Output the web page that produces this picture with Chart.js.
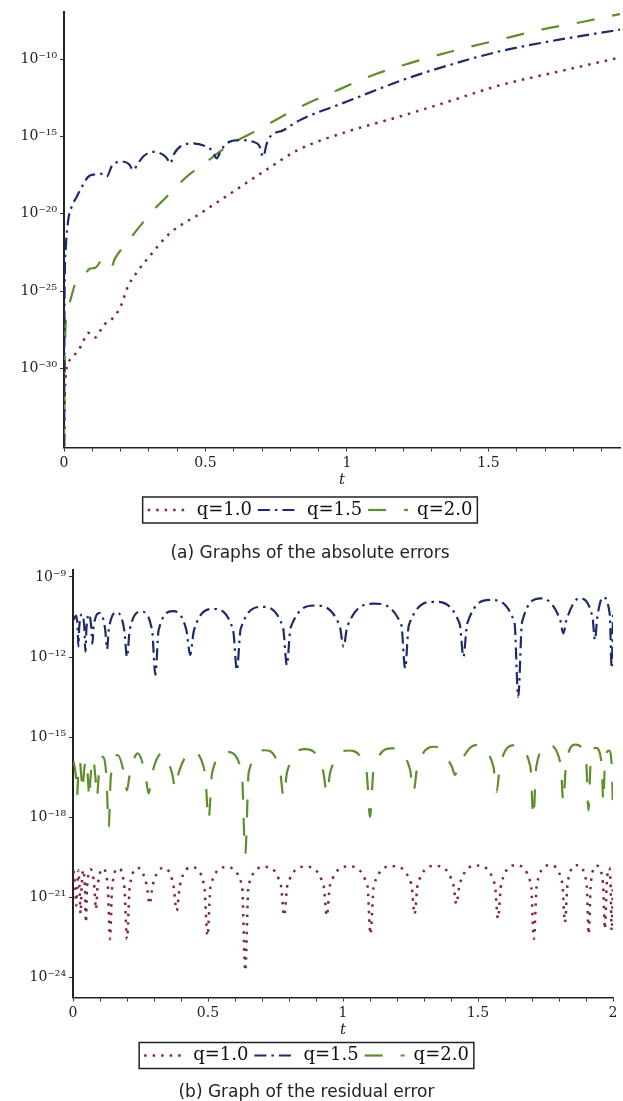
<!DOCTYPE html>
<html lang="en">
<head>
  <meta charset="UTF-8" />
  <title>Absolute and residual errors</title>
  <script src="https://cdn.jsdelivr.net/npm/chart.js"></script>
  <style>
    html, body { margin: 0; padding: 0; background: #fff; }
    body { width: 623px; height: 1101px; overflow: hidden; }
    canvas { display: block; }
  </style>
</head>
<body>

<canvas id="chartA" width="623" height="565"></canvas>
<canvas id="chartB" width="623" height="536"></canvas>

<script>
  // values are [t, log10(error)]
  const seriesLabels = ['q=1.0', 'q=1.5', 'q=2.0'];

  // (a) absolute errors
  const absQ10 = [[0.0005,-35],[0.003,-31.5],[0.014,-29.7],[0.027,-29.3],[0.045,-28.95],[0.062,-28.5],[0.085,-27.7],
    [0.11,-28.0],[0.14,-27.2],[0.17,-26.8],[0.2,-26.0],[0.226,-24.7],[0.257,-23.8],[0.3,-22.8],[0.375,-21.25],
    [0.48,-20.0],[0.6,-18.55],[0.72,-17.1],[0.83,-15.85],[1.0,-14.7],[1.19,-13.7],[1.35,-12.8],[1.54,-11.7],
    [1.75,-10.8],[1.965,-9.9]];
  const absQ15 = [[0.0005,-35],[0.002,-25.5],[0.006,-22.3],[0.015,-20.4],[0.027,-19.55],[0.045,-18.9],[0.065,-18.2],
    [0.086,-17.6],[0.11,-17.45],[0.127,-17.4],[0.151,-17.6],[0.174,-16.75],[0.21,-16.64],[0.23,-16.8],[0.245,-17.18],
    [0.26,-16.8],[0.28,-16.3],[0.316,-16.0],[0.351,-16.2],[0.365,-16.45],[0.375,-16.75],[0.39,-16.1],[0.41,-15.67],
    [0.457,-15.45],[0.504,-15.67],[0.525,-15.95],[0.54,-16.42],[0.555,-15.9],[0.575,-15.45],[0.622,-15.24],
    [0.669,-15.35],[0.69,-15.6],[0.704,-16.32],[0.716,-15.5],[0.728,-15.03],[0.775,-14.6],[0.834,-13.95],
    [1.0,-12.75],[1.19,-11.4],[1.36,-10.4],[1.54,-9.5],[1.75,-8.75],[1.965,-8.1]];
  const absQ20 = [[0.0005,-35],[0.004,-28],[0.012,-26.3],[0.027,-25.3],[0.04,-24.5],[0.068,-24.05],[0.092,-23.55],
    [0.11,-23.5],[0.14,-22.9],[0.155,-23.0],[0.168,-23.4],[0.18,-22.9],[0.221,-21.9],[0.316,-19.77],[0.363,-18.9],
    [0.434,-17.6],[0.5,-16.7],[0.575,-15.67],[0.693,-14.5],[0.834,-13.1],[0.95,-12.15],[1.093,-11.03],[1.24,-10.17],
    [1.388,-9.42],[1.535,-8.77],[1.682,-8.12],[1.835,-7.59],[1.965,-7.09]];

  // (b) residual errors
  const resQ10 = [[0.002,-20.0],[0.008,-20.6],[0.012,-21.3],[0.016,-20.6],[0.02,-19.98],[0.024,-20.6],[0.028,-21.6],
    [0.032,-20.6],[0.038,-19.97],[0.044,-20.6],[0.048,-21.94],[0.052,-20.6],[0.066,-19.95],[0.079,-20.6],[0.085,-21.44],
    [0.091,-20.6],[0.11,-19.93],[0.129,-20.6],[0.137,-22.56],[0.145,-20.6],[0.168,-19.92],[0.19,-20.6],[0.2,-22.56],
    [0.21,-20.6],[0.242,-19.9],[0.273,-20.55],[0.284,-21.25],[0.295,-20.55],[0.334,-19.9],[0.372,-20.55],[0.384,-21.5],
    [0.396,-20.55],[0.441,-19.88],[0.486,-20.55],[0.498,-22.44],[0.51,-20.55],[0.568,-19.87],[0.626,-20.55],[0.638,-23.75],
    [0.65,-20.55],[0.71,-19.86],[0.77,-20.55],[0.782,-21.69],[0.794,-20.55],[0.861,-19.85],[0.928,-20.55],[0.94,-21.69],
    [0.952,-20.55],[1.021,-19.84],[1.09,-20.55],[1.102,-22.38],[1.114,-20.55],[1.183,-19.83],[1.253,-20.5],[1.265,-21.63],
    [1.277,-20.5],[1.342,-19.82],[1.408,-20.5],[1.42,-21.25],[1.432,-20.5],[1.497,-19.81],[1.562,-20.5],[1.574,-21.79],
    [1.586,-20.5],[1.64,-19.8],[1.696,-20.5],[1.707,-22.56],[1.718,-20.5],[1.765,-19.8],[1.812,-20.45],[1.822,-21.94],
    [1.832,-20.45],[1.866,-19.8],[1.902,-20.45],[1.91,-22.38],[1.918,-20.45],[1.94,-19.82],[1.963,-20.45],[1.97,-22.19],
    [1.977,-20.45],[1.986,-19.9],[1.991,-20.45],[1.995,-22.25],[2.0,-20.45]];
  const resQ15 = [[0.002,-10.6],[0.012,-10.45],[0.017,-10.9],[0.02,-11.6],[0.023,-10.9],[0.033,-10.4],[0.042,-10.9],
    [0.046,-11.8],[0.05,-10.9],[0.059,-10.4],[0.068,-10.9],[0.072,-11.5],[0.076,-10.9],[0.099,-10.35],[0.119,-10.95],
    [0.126,-11.7],[0.133,-10.95],[0.163,-10.33],[0.19,-11.0],[0.2,-12.0],[0.21,-11.0],[0.252,-10.3],[0.293,-11.0],
    [0.305,-12.67],[0.317,-11.0],[0.37,-10.28],[0.42,-11.0],[0.434,-11.92],[0.448,-11.0],[0.52,-10.2],[0.593,-11.0],
    [0.607,-12.49],[0.621,-10.95],[0.7,-10.12],[0.778,-10.9],[0.792,-12.3],[0.806,-10.9],[0.897,-10.07],[0.988,-10.85],
    [1.002,-11.61],[1.016,-10.85],[1.116,-10.0],[1.216,-10.8],[1.23,-12.42],[1.244,-10.8],[1.338,-9.93],[1.432,-10.75],
    [1.446,-11.99],[1.46,-10.75],[1.547,-9.86],[1.635,-10.7],[1.649,-13.49],[1.663,-10.7],[1.733,-9.8],[1.804,-10.6],
    [1.816,-11.11],[1.828,-10.6],[1.875,-9.8],[1.924,-10.5],[1.933,-11.36],[1.942,-10.5],[1.963,-9.76],[1.988,-10.4],
    [1.995,-12.41],[2.0,-10.4]];
  const resQ20 = [[0.002,-15.9],[0.011,-16.5],[0.015,-17.2],[0.019,-16.5],[0.025,-15.9],[0.031,-16.5],[0.035,-17.0],
    [0.039,-16.5],[0.047,-15.85],[0.055,-16.5],[0.06,-17.3],[0.065,-16.5],[0.074,-15.8],[0.083,-16.5],[0.089,-17.24],
    [0.095,-16.5],[0.11,-15.74],[0.124,-16.5],[0.132,-18.36],[0.14,-16.5],[0.166,-15.67],[0.19,-16.4],[0.2,-16.99],
    [0.21,-16.4],[0.24,-15.61],[0.268,-16.4],[0.28,-17.11],[0.292,-16.4],[0.33,-15.6],[0.367,-16.35],[0.379,-16.92],
    [0.391,-16.35],[0.44,-15.55],[0.489,-16.35],[0.502,-18.11],[0.515,-16.35],[0.57,-15.55],[0.625,-16.3],[0.638,-19.36],
    [0.651,-16.3],[0.71,-15.49],[0.767,-16.3],[0.78,-17.24],[0.793,-16.3],[0.86,-15.45],[0.927,-16.3],[0.94,-17.11],
    [0.953,-16.3],[1.02,-15.5],[1.087,-16.3],[1.1,-17.99],[1.113,-16.25],[1.18,-15.42],[1.248,-16.2],[1.261,-17.05],
    [1.274,-16.2],[1.34,-15.36],[1.403,-16.1],[1.415,-16.42],[1.427,-16.1],[1.49,-15.3],[1.557,-16.1],[1.569,-17.05],
    [1.581,-16.1],[1.637,-15.3],[1.694,-16.1],[1.705,-17.99],[1.716,-16.1],[1.76,-15.3],[1.806,-16.0],[1.816,-17.43],
    [1.826,-16.0],[1.862,-15.28],[1.901,-16.0],[1.909,-17.74],[1.917,-16.0],[1.936,-15.4],[1.958,-16.0],[1.964,-17.43],
    [1.97,-16.0],[1.985,-15.5],[1.996,-16.2],[2.0,-17.74]];

  // y tick exponents
  const yTicksA = [-10, -15, -20, -25, -30];
  const yTicksB = [-9, -12, -15, -18, -21, -24];
  const captions = ['(a) Graphs of the absolute errors', '(b) Graph of the residual error'];

  const colors = ['#82263a', '#1d2b6c', '#5f8e2e'];
  const dashes = [[2.5, 6], [12, 5, 2.5, 5], [18, 18]];
  const widths = [2.5, 2.2, 2.2];
  const serif = '"DejaVu Serif", "Liberation Serif", serif';

  const sup = { '-': '\u207B', '0': '\u2070', '1': '\u00B9', '2': '\u00B2', '3': '\u00B3', '4': '\u2074',
    '5': '\u2075', '6': '\u2076', '7': '\u2077', '8': '\u2078', '9': '\u2079' };
  const powLabel = v => '10' + String(Math.round(Math.log10(v))).split('').map(c => sup[c]).join('');

  // box round the legend, like the Maple output
  const legendFrame = {
    id: 'legendFrame',
    afterDraw(chart) {
      const hb = chart.legend && chart.legend.legendHitBoxes;
      if (!hb || !hb.length) return;
      const l = Math.min(...hb.map(b => b.left)) - 5;
      const r = Math.max(...hb.map(b => b.left + b.width)) + 5;
      const t = Math.min(...hb.map(b => b.top)) - 4;
      const bt = Math.max(...hb.map(b => b.top + b.height)) + 4;
      const ctx = chart.ctx;
      ctx.save();
      ctx.strokeStyle = '#222';
      ctx.lineWidth = 1.5;
      ctx.strokeRect(l, t, r - l, bt - t);
      ctx.restore();
    }
  };

  // legend samples: a short piece of each line with its dash pattern
  const legendItems = chart =>
    Chart.defaults.plugins.legend.labels.generateLabels(chart).map((it, i) =>
      Object.assign(it, { pointStyle: 'line', lineDash: dashes[i], lineWidth: widths[i], strokeStyle: colors[i] }));

  function makeChart(id, series, o) {
    return new Chart(document.getElementById(id), {
      type: 'line',
      data: {
        datasets: series.map((s, i) => ({
          label: seriesLabels[i],
          data: s.map(p => ({ x: p[0], y: Math.pow(10, p[1]) })),
          borderColor: colors[i],
          backgroundColor: colors[i],
          borderWidth: widths[i],
          borderDash: dashes[i],
          pointRadius: 0,
          pointStyle: 'line',
          fill: false,
          cubicInterpolationMode: 'monotone'
        }))
      },
      options: {
        responsive: false,
        animation: false,
        devicePixelRatio: 1,
        layout: { padding: o.padding },
        scales: {
          x: {
            type: 'linear',
            min: 0,
            max: o.xMax,
            ticks: {
              stepSize: 0.1,
              autoSkip: false,
              maxRotation: 0,
              includeBounds: false,
              padding: 3,
              color: '#222',
              font: { family: serif, size: 14 },
              callback: v => Math.abs(v * 2 - Math.round(v * 2)) < 1e-6 ? String(Number(v.toFixed(1))) : ''
            },
            grid: { drawOnChartArea: false, tickLength: 4, tickColor: '#333' },
            border: { color: '#222', width: 1.5 },
            title: {
              display: true, text: 't', color: '#222',
              font: { family: serif, size: 15, style: 'italic' },
              padding: { top: 0, bottom: o.tPad }
            },
            afterFit: s => { s.height = o.xH; s.paddingLeft = 0; s.paddingRight = 0; }
          },
          y: {
            type: 'logarithmic',
            min: Math.pow(10, o.yMin),
            max: Math.pow(10, o.yMax),
            afterBuildTicks: s => { s.ticks = o.yTicks.map(e => ({ value: Math.pow(10, e) })); },
            ticks: { color: '#222', padding: 3, font: { family: serif, size: 14 }, callback: v => powLabel(v) },
            grid: { drawOnChartArea: false, tickLength: 4, tickColor: '#333' },
            border: { color: '#222', width: 2 },
            afterFit: s => { s.width = o.yW; s.paddingTop = 0; s.paddingBottom = 0; }
          }
        },
        plugins: {
          legend: {
            position: 'bottom',
            labels: {
              usePointStyle: true,
              pointStyleWidth: 40,
              boxHeight: 8,
              padding: 6,
              color: '#111',
              font: { family: serif, size: 18 },
              generateLabels: legendItems
            }
          },
          title: {
            display: true,
            position: 'bottom',
            text: o.caption,
            color: '#222',
            font: { family: '"DejaVu Sans", sans-serif', size: 17, weight: 'normal', lineHeight: 1 },
            padding: o.capPad
          },
          tooltip: { enabled: false }
        }
      },
      plugins: [legendFrame]
    });
  }

  makeChart('chartA', [absQ10, absQ15, absQ20], {
    padding: { top: 12, right: 3, left: 0, bottom: 0 },
    xMax: 1.965, yMin: -35.11, yMax: -6.96, yTicks: yTicksA,
    yW: 64, xH: 47.5, tPad: 5.5,
    caption: captions[0], capPad: { top: 16, bottom: 3 }
  });

  makeChart('chartB', [resQ10, resQ15, resQ20], {
    padding: { top: 5, right: 10, left: 0, bottom: 0 },
    xMax: 2, yMin: -24.75, yMax: -8.74, yTicks: yTicksB,
    yW: 73, xH: 43, tPad: 1,
    caption: captions[1], capPad: { top: 9.5, bottom: 0 }
  });
</script>

</body>
</html>
